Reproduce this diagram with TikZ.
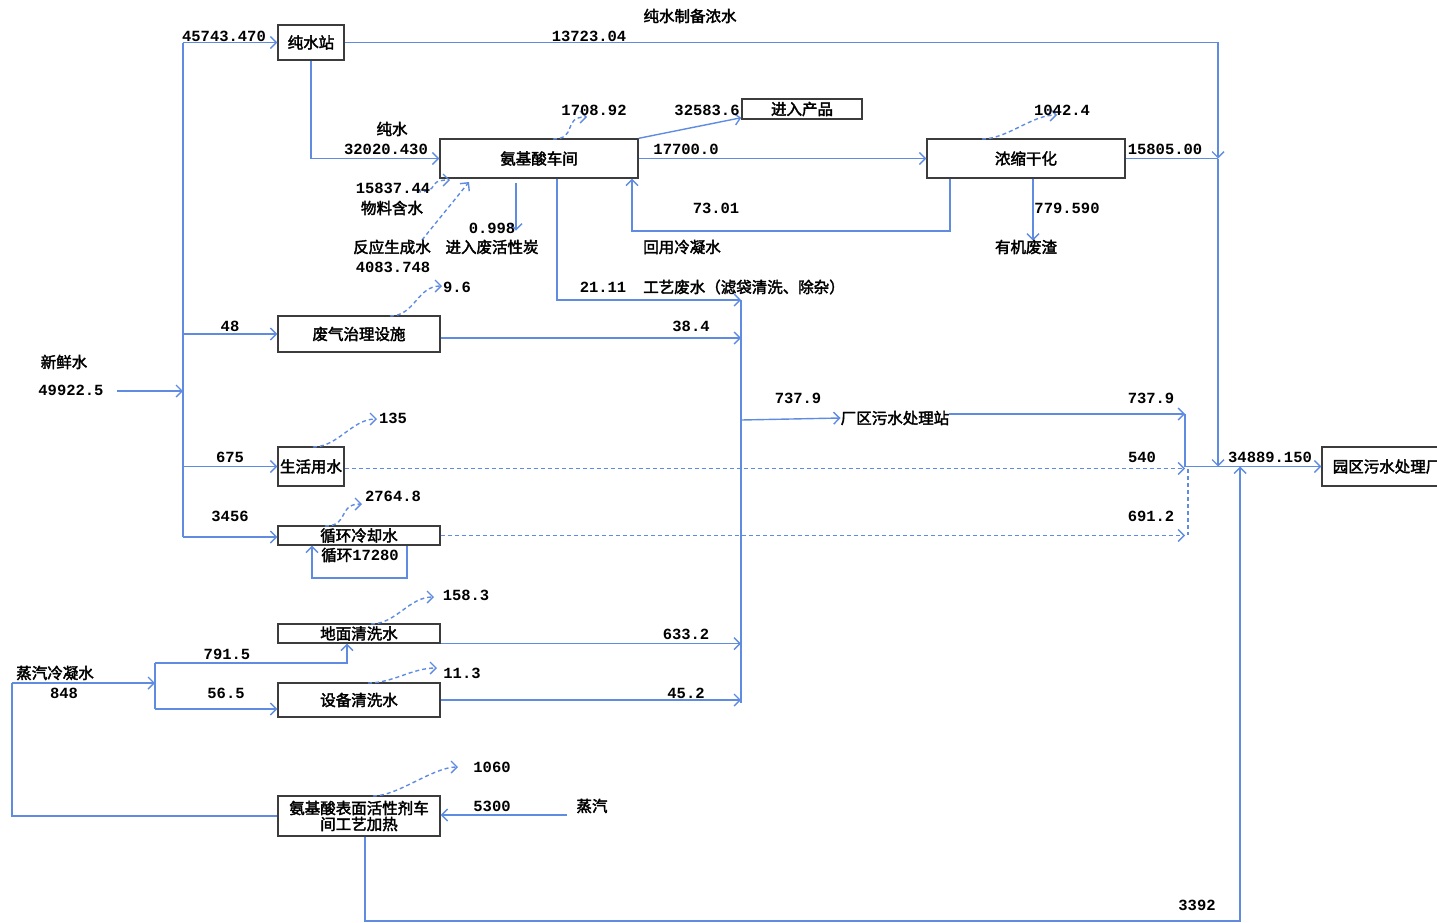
\documentclass[tikz,border=0pt]{standalone}
\usepackage{fontspec}
\usepackage{tikz}
\usetikzlibrary{arrows.meta}
\usetikzlibrary{positioning,calc}
\newfontfamily\cjk{Noto Sans CJK SC}[FakeBold=2.4]
\newfontfamily\numfont{Liberation Mono}
\newcommand{\nm}[1]{{\numfont\bfseries #1}}
\definecolor{flowc}{RGB}{95,140,225}
\definecolor{boxc}{RGB}{60,60,60}
\tikzset{
    every node/.style={font=\cjk\fontsize{15.5}{19}\selectfont},
    unit/.style={
        draw=boxc,
        line width=1.4pt,
        fill=white,
        inner sep=0pt
    },
    pipe/.style={
        draw=flowc,
        line width=1.4pt
    },
    flow/.style={
        pipe,
        -{Straight Barb[length=6pt,width=12pt]}
    }
}

\begin{document}
\begin{tikzpicture}[x=1pt,y=-1pt] % one unit = one pixel of the layout
  \tikzset{
    vap/.style={flow, dash pattern=on 4pt off 3pt},
    seep/.style={pipe, dash pattern=on 4pt off 3pt},
    lbl/.style={inner sep=0pt}
  }
  \useasboundingbox (0,0) rectangle (1437,922);

  % Process units
  \node[unit, minimum width=66pt,  minimum height=35pt] (cs) at (311,42.5) {纯水站};
  \node[unit, minimum width=198pt, minimum height=39pt] (aj) at (539,158.5) {氨基酸车间};
  \node[unit, minimum width=120pt, minimum height=20pt] (cp) at (802,109) {进入产品};
  \node[unit, minimum width=198pt, minimum height=39pt] (ns) at (1026,158.5) {浓缩干化};
  \node[unit, minimum width=162pt, minimum height=36pt] (fq) at (359,334) {废气治理设施};
  \node[unit, minimum width=66pt,  minimum height=39pt] (sh) at (311,466.5) {生活用水};
  \node[unit, minimum width=162pt, minimum height=19pt] (xh) at (359,535.5) {循环冷却水};
  \node[unit, minimum width=162pt, minimum height=19pt] (dm) at (359,633.5) {地面清洗水};
  \node[unit, minimum width=162pt, minimum height=34pt] (sb) at (359,700) {设备清洗水};
  \node[unit, minimum width=162pt, minimum height=40pt, align=center] (bm) at (359,816)
       {氨基酸表面活性剂车\\[-3pt]间工艺加热};
  \node[unit, minimum width=130pt, minimum height=39pt] (yq) at (1387,466.5) {园区污水处理厂};
  \node[lbl] (cq) at (895,418) {厂区污水处理站};

  % Junction points
  \coordinate (t0) at (183,42.5);
  \coordinate (tin) at (183,391);
  \coordinate (t3) at (183,537);
  \coordinate (fin) at (117,391);
  \coordinate (r1) at (1218,158.5);
  \coordinate (r2) at (1218,466.5);
  \coordinate (col1) at (741,300);
  \coordinate (col2) at (741,703);
  \coordinate (m1) at (1185,414);
  \coordinate (m2) at (1185,466.5);
  \coordinate (b1) at (365,921);
  \coordinate (b2) at (1240,921);
  \coordinate (k0) at (12,683);
  \coordinate (k1) at (155,683);
  \coordinate (k2) at (155,663);
  \coordinate (k3) at (155,709);
  \coordinate (k4) at (347,663);

  % Fresh water trunk
  \draw[pipe] (t0) -- (t3);
  \draw[flow] (fin) -- (tin);
  \foreach \u/\dy in {cs/0, fq/0, sh/0, xh/1.5} {
    \draw[flow] ([yshift=-\dy pt]\u.west -| t0) -- ([yshift=-\dy pt]\u.west);
  }

  % Pure water station
  \draw[flow] (cs.east) -- (cs.east -| r1) -- (r1);
  \draw[flow] (r1) -- (r2);
  \draw[flow] (cs.south) -- (cs.south |- aj.west) -- (aj.west);

  % Amino acid workshop
  \draw[flow] (aj.north east) -- ([yshift=2pt]cp.south west);
  \draw[flow] (aj.east) -- (ns.west);
  \draw[flow] ($(aj.south)+(-23,4)$) -- ($(aj.south)+(-23,52)$) coordinate (hx);
  \draw[flow] (ns.south -| 950,0) |- (632,231) coordinate (rb) -- (rb |- aj.south);
  \draw[flow] ($(ns.south)+(7,0)$) -- ($(ns.south)+(7,62)$) coordinate (od);
  \draw[pipe] (ns.east) -- (r1);
  \draw[flow] (aj.south -| 557,0) |- (col1);

  % Collector to plant station
  \draw[pipe] (col1) -- (col2);
  \draw[flow] ([yshift=-4pt]fq.east) -- ([yshift=-4pt]fq.east -| col1);
  \draw[flow] (741,420) coordinate (c3) -- (cq.west);
  \draw[flow] (cq.east |- m1) -- (m1);
  \draw[pipe] (m1) -- (m2);
  \draw[flow] (m2) -- (yq.west);
  \draw[flow] (bm.south -| b1) -- (b1) -- (b2) -- (b2 |- yq.west);

  % Domestic and cooling water
  \draw[vap] ([yshift=-2pt]sh.east) -- ([yshift=-2pt]sh.east -| m1);
  \draw[vap] (xh.east) -- (xh.east -| m1);
  \draw[seep] (1188,469) coordinate (d1) -- (1188,535) coordinate (d2);
  \draw[flow] (xh.south -| 407,0) |- (312,578) coordinate (lp) -- (lp |- xh.south);

  % Cleaning water
  \draw[flow] (dm.south east) -- (dm.south east -| col2);
  \draw[flow] (sb.east) -- (sb.east -| col2);
  \draw[pipe] (bm.west) -| (k0);
  \draw[flow] (k0) -- (k1);
  \draw[pipe] (k2) -- (k3);
  \draw[flow] (k2) -- (k4) -- (k4 |- dm.south);
  \draw[flow] (k3) -- (k3 -| sb.west);
  \draw[flow] (567,815) coordinate (st) -- (st -| bm.east);

  % Losses (dashed curves)
  \foreach \a/\b in {{553,139}/{587,117}, {982,139}/{1057,115}, {417,192}/{450,180},
                     {390,316}/{442,286}, {313,447}/{377,419}, {325,526}/{362,504},
                     {371,624}/{434,597}, {368,683}/{437,668}, {373,796}/{458,767}} {
    \draw[vap] (\a) .. controls +(25,0) and +(-25,0) .. (\b);
  }
  \draw[vap] (422,240) coordinate (w2) -- (469,182) coordinate (w2e);

  % Labels
  \node[lbl] (l1)  at (224,36)   {\nm{45743.470}};
  \node[lbl] (l2)  at (690,16)   {纯水制备浓水};
  \node[lbl] (l3)  at (589,36)   {\nm{13723.04}};
  \node[lbl] (l4)  at (392,129)  {纯水};
  \node[lbl] (l5)  at (386,149)  {\nm{32020.430}};
  \node[lbl] (l6)  at (594,110)  {\nm{1708.92}};
  \node[lbl] (l7)  at (707,110)  {\nm{32583.6}};
  \node[lbl] (l8)  at (686,149)  {\nm{17700.0}};
  \node[lbl] (l9)  at (1062,110) {\nm{1042.4}};
  \node[lbl] (l10) at (1165,149) {\nm{15805.00}};
  \node[lbl] (l11) at (393,188)  {\nm{15837.44}};
  \node[lbl] (l12) at (392,208)  {物料含水};
  \node[lbl] (l13) at (492,228)  {\nm{0.998}};
  \node[lbl] (l14) at (716,208)  {\nm{73.01}};
  \node[lbl] (l15) at (1067,208) {\nm{779.590}};
  \node[lbl] (l16) at (392,247)  {反应生成水};
  \node[lbl] (l17) at (492,247)  {进入废活性炭};
  \node[lbl] (l18) at (682,247)  {回用冷凝水};
  \node[lbl] (l19) at (1026,247) {有机废渣};
  \node[lbl] (l20) at (393,267)  {\nm{4083.748}};
  \node[lbl] (l21) at (457,287)  {\nm{9.6}};
  \node[lbl] (l22) at (603,287)  {\nm{21.11}};
  \node[lbl] (l23) at (744,287)  {工艺废水（滤袋清洗、除杂）};
  \node[lbl] (l24) at (230,326)  {\nm{48}};
  \node[lbl] (l25) at (691,326)  {\nm{38.4}};
  \node[lbl] (l26) at (64,362)   {新鲜水};
  \node[lbl] (l27) at (71,390)   {\nm{49922.5}};
  \node[lbl] (l28) at (798,398)  {\nm{737.9}};
  \node[lbl] (l29) at (1151,398) {\nm{737.9}};
  \node[lbl] (l30) at (393,418)  {\nm{135}};
  \node[lbl] (l31) at (230,457)  {\nm{675}};
  \node[lbl] (l32) at (1142,457) {\nm{540}};
  \node[lbl] (l33) at (1270,457) {\nm{34889.150}};
  \node[lbl] (l34) at (393,496)  {\nm{2764.8}};
  \node[lbl] (l35) at (230,516)  {\nm{3456}};
  \node[lbl] (l36) at (1151,516) {\nm{691.2}};
  \node[lbl] (l37) at (360,555)  {循环\nm{17280}};
  \node[lbl] (l38) at (466,595)  {\nm{158.3}};
  \node[lbl] (l39) at (227,654)  {\nm{791.5}};
  \node[lbl] (l40) at (686,634)  {\nm{633.2}};
  \node[lbl] (l41) at (55,673)   {蒸汽冷凝水};
  \node[lbl] (l42) at (462,673)  {\nm{11.3}};
  \node[lbl] (l43) at (64,693)   {\nm{848}};
  \node[lbl] (l44) at (226,693)  {\nm{56.5}};
  \node[lbl] (l45) at (686,693)  {\nm{45.2}};
  \node[lbl] (l46) at (492,767)  {\nm{1060}};
  \node[lbl] (l47) at (492,806)  {\nm{5300}};
  \node[lbl] (l48) at (592,806)  {蒸汽};
  \node[lbl] (l49) at (1197,905) {\nm{3392}};
\end{tikzpicture}
\end{document}
